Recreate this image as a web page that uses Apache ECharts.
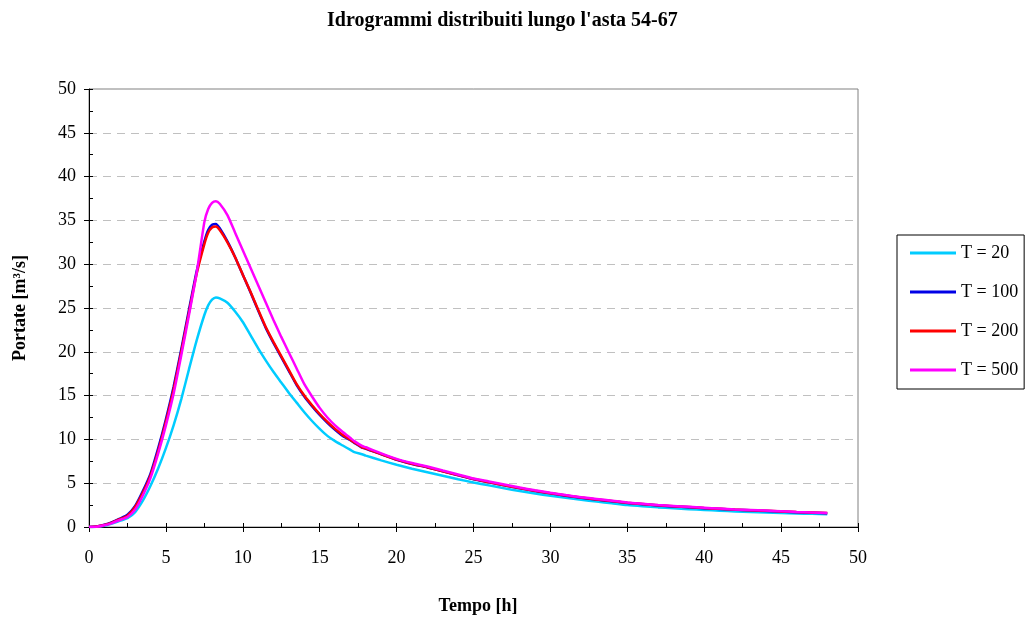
<!DOCTYPE html>
<html>
<head>
<meta charset="utf-8">
<script src="https://cdn.jsdelivr.net/npm/echarts@6/dist/echarts.min.js"></script>
<style>
  html, body { margin: 0; padding: 0; background: #fff; }
  #chart { width: 1026px; height: 620px; }
</style>
</head>
<body>
<div id="chart"></div>
<script>
// Idrogrammi di piena lungo l'asta 54-67 per diversi tempi di ritorno
const tempo = [
  0, 0.5, 1, 1.5, 2, 2.5, 3, 3.5, 4, 4.5, 5, 5.5, 6, 6.5, 7, 7.5,
  7.75, 8, 8.25, 8.5,
  9, 9.5, 10, 10.5, 11, 11.5, 12, 12.5, 13, 13.5, 14, 14.5, 15, 15.5, 16, 16.5, 17,
  17.25, 17.75, 18,
  19, 20, 21, 22, 23, 24, 25, 26, 27, 28, 29, 30, 31, 32, 33, 34, 35, 36, 37, 38,
  39, 40, 41, 42, 43, 44, 45, 46, 47, 48
];

const q20 = [
  0, 0.03, 0.15, 0.4, 0.7, 1.0, 1.7, 3.0, 4.7, 6.7, 9.0, 11.6, 14.6, 18.0, 21.3, 24.2,
  25.3, 25.95, 26.2, 26.1,
  25.6, 24.6, 23.4, 21.9, 20.4, 19.0, 17.7, 16.5, 15.3, 14.2, 13.1, 12.1, 11.2, 10.4, 9.8, 9.3, 8.8,
  8.55, 8.3, 8.15,
  7.6, 7.1, 6.65, 6.25, 5.85, 5.45, 5.08, 4.75, 4.42, 4.1, 3.82, 3.57, 3.33, 3.1, 2.9, 2.7, 2.5, 2.36, 2.24, 2.13,
  2.03, 1.94, 1.86, 1.78, 1.72, 1.66, 1.6, 1.54, 1.5, 1.45
];

const q100 = [
  0, 0.06, 0.25, 0.55, 0.95, 1.4, 2.4, 4.1, 6.1, 9.0, 12.3, 16.0, 20.3, 24.8, 29.2, 32.6,
  33.9, 34.5, 34.6, 34.1,
  32.6, 30.8, 28.8, 26.8, 24.7, 22.7, 21.0, 19.4, 17.8, 16.2, 14.9, 13.8, 12.8, 11.9, 11.1, 10.4, 9.9,
  9.6, 9.05, 8.93,
  8.3, 7.67, 7.2, 6.8, 6.35, 5.9, 5.45, 5.1, 4.75, 4.42, 4.12, 3.84, 3.58, 3.34, 3.13, 2.94, 2.75, 2.6, 2.46, 2.35,
  2.25, 2.15, 2.06, 1.97, 1.9, 1.83, 1.76, 1.69, 1.63, 1.57
];

const q200 = [
  0, 0.05, 0.22, 0.5, 0.9, 1.3, 2.3, 3.9, 5.9, 8.7, 12.0, 15.7, 20.0, 24.5, 28.9, 32.3,
  33.6, 34.2, 34.3, 33.9,
  32.5, 30.8, 28.8, 26.85, 24.8, 22.8, 21.1, 19.5, 17.9, 16.3, 15.0, 13.9, 12.9, 12.0, 11.2, 10.5, 9.95,
  9.65, 9.1, 8.97,
  8.32, 7.69, 7.22, 6.82, 6.37, 5.92, 5.47, 5.12, 4.77, 4.44, 4.14, 3.86, 3.6, 3.36, 3.15, 2.96, 2.77, 2.62, 2.48, 2.37,
  2.27, 2.17, 2.08, 1.99, 1.92, 1.85, 1.78, 1.71, 1.65, 1.59
];

const q500 = [
  0, 0.04, 0.2, 0.45, 0.8, 1.15, 2.0, 3.6, 5.6, 8.4, 11.6, 15.2, 19.6, 24.2, 29.0, 34.8,
  36.3, 37.0, 37.2, 36.9,
  35.6, 33.6, 31.6, 29.6, 27.6, 25.6, 23.6, 21.7, 19.9, 18.1, 16.3, 14.9, 13.6, 12.5, 11.6, 10.85, 10.15,
  9.8, 9.25, 9.1,
  8.4, 7.78, 7.3, 6.9, 6.45, 6.0, 5.53, 5.2, 4.85, 4.5, 4.2, 3.91, 3.65, 3.4, 3.2, 3.0, 2.8, 2.65, 2.5, 2.4,
  2.3, 2.2, 2.1, 2.0, 1.95, 1.88, 1.8, 1.72, 1.66, 1.6
];

const seriesNames = ['T = 20', 'T = 100', 'T = 200', 'T = 500'];
const seriesValues = [q20, q100, q200, q500];
const seriesColors = ['#00ccff', '#0000e6', '#ff0000', '#ff00ff'];

const titleText = "Idrogrammi distribuiti lungo l'asta 54-67";
const xName = 'Tempo [h]';
const yName = 'Portate [m\u00b3/s]';

const serif = '"Liberation Serif", "DejaVu Serif", serif';

const pairs = vals => tempo.map((t, i) => [t, vals[i]]);

const chart = echarts.init(document.getElementById('chart'), null, { renderer: 'canvas' });

// secondary axes carry only the short inward ticks every 2.5 units
const minorAxisCommon = {
  type: 'value',
  min: 0,
  max: 50,
  interval: 2.5,
  axisLine: { show: false },
  axisTick: { show: true, inside: true, length: 4, lineStyle: { color: '#000', width: 1 } },
  axisLabel: { show: false },
  splitLine: { show: false }
};

chart.setOption({
  backgroundColor: '#ffffff',
  animation: false,
  title: {
    text: titleText,
    left: 322,
    top: 6,
    textStyle: { fontFamily: serif, fontSize: 20, fontWeight: 'bold', color: '#000' }
  },
  legend: {
    orient: 'vertical',
    left: 897,
    top: 235,
    padding: [9, 6, 10, 13],
    icon: 'rect',
    itemWidth: 46,
    itemHeight: 3,
    itemGap: 21,
    borderColor: '#000',
    borderWidth: 1,
    borderRadius: 0,
    backgroundColor: '#fff',
    data: seriesNames,
    textStyle: { fontFamily: serif, fontSize: 18, color: '#000' }
  },
  grid: {
    left: 89,
    right: 168,
    top: 89,
    bottom: 92,
    show: true,
    borderColor: '#808080',
    borderWidth: 1,
    backgroundColor: 'transparent'
  },
  xAxis: [
    {
      type: 'value',
      min: 0,
      max: 50,
      interval: 5,
      name: xName,
      nameLocation: 'middle',
      nameGap: 70,
      nameTextStyle: { fontFamily: serif, fontSize: 18, fontWeight: 'bold', color: '#000', padding: [0, 0, 0, 9] },
      axisLine: { show: true, onZero: false, lineStyle: { color: '#000', width: 1 } },
      axisTick: { show: true, inside: false, length: 5, lineStyle: { color: '#000', width: 1 } },
      axisLabel: { margin: 22, fontFamily: serif, fontSize: 18, color: '#000' },
      splitLine: { show: false }
    },
    Object.assign({ position: 'bottom' }, minorAxisCommon)
  ],
  yAxis: [
    {
      type: 'value',
      min: 0,
      max: 50,
      interval: 5,
      name: yName,
      nameLocation: 'middle',
      nameGap: 60,
      nameRotate: 90,
      nameTextStyle: { fontFamily: serif, fontSize: 18, fontWeight: 'bold', color: '#000' },
      axisLine: { show: true, onZero: false, lineStyle: { color: '#000', width: 1 } },
      axisTick: { show: true, inside: false, length: 5, lineStyle: { color: '#000', width: 1 } },
      axisLabel: { margin: 13, fontFamily: serif, fontSize: 18, color: '#000' },
      splitLine: { show: true, lineStyle: { color: '#c0c0c0', width: 1, type: [8, 6] } }
    },
    Object.assign({ position: 'left' }, minorAxisCommon)
  ],
  series: seriesNames.map((name, k) => ({
    name: name,
    type: 'line',
    xAxisIndex: 0,
    yAxisIndex: 0,
    data: pairs(seriesValues[k]),
    symbol: 'none',
    showSymbol: false,
    smooth: 0.2,
    lineStyle: { color: seriesColors[k], width: 2.5 },
    itemStyle: { color: seriesColors[k] },
    z: 2 + k
  }))
});
</script>
</body>
</html>
